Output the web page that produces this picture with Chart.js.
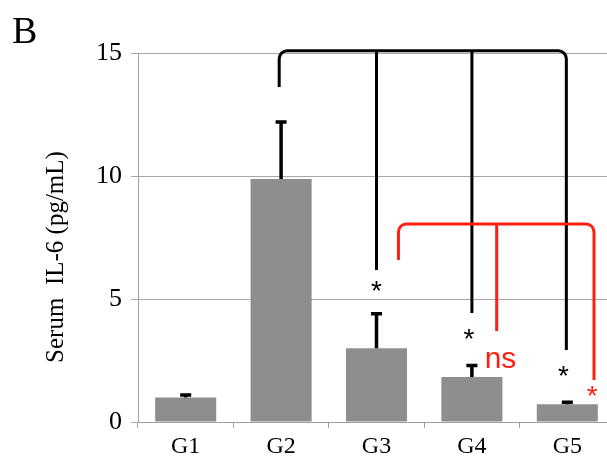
<!DOCTYPE html>
<html>
<head>
<meta charset="utf-8">
<script src="https://cdn.jsdelivr.net/npm/chart.js@4"></script>
<style>
    body { margin: 0; background: #fff; overflow: hidden; }
    #wrap { width: 615px; height: 463px; }
</style>
</head>
<body>
<div id="wrap"><canvas id="il6Chart"></canvas></div>
<script>
// Data
const categories = ["G1", "G2", "G3", "G4", "G5"];
const il6Mean = [1.0, 9.88, 3.0, 1.83, 0.72];
const il6ErrTop = [1.1, 12.2, 4.4, 2.3, 0.8];
const yTicks = [0, 5, 10, 15];

// Significance brackets (category index, value)
const blackTop = 15.09;
const blackLegs = [[0.98, 13.62], [2, 6.18], [3, 4.43], [3.99, 2.93]];
const blackStars = [[2, 5.57], [2.97, 3.62], [3.96, 2.11]];
const redTop = 8.05;
const redLegs = [[2.23, 6.59], [3.26, 3.7], [4.28, 1.71]];
const redStars = [[4.26, 1.3]];
const nsLabel = [3.3, 2.52];

const serif = "'Liberation Serif', 'Times New Roman', serif";
const sans = "'Liberation Sans', Arial, sans-serif";
const red = "#ff1f10";

function drawBracket(ctx, x, y, top, legs, color) {
    const r = 8;
    const yt = y.getPixelForValue(top);
    const first = legs[0], last = legs[legs.length - 1];
    const x0 = x.getPixelForValue(first[0]);
    const x1 = x.getPixelForValue(last[0]);
    ctx.save();
    ctx.strokeStyle = color;
    ctx.lineWidth = 3;
    ctx.lineJoin = "round";
    ctx.beginPath();
    ctx.moveTo(x0, y.getPixelForValue(first[1]));
    ctx.arcTo(x0, yt, x0 + r, yt, r);
    ctx.arcTo(x1, yt, x1, yt + r, r);
    ctx.lineTo(x1, y.getPixelForValue(last[1]));
    legs.slice(1, -1).forEach((leg) => {
        const lx = x.getPixelForValue(leg[0]);
        ctx.moveTo(lx, yt);
        ctx.lineTo(lx, y.getPixelForValue(leg[1]));
    });
    ctx.stroke();
    ctx.restore();
}

function drawStars(ctx, x, y, stars, color) {
    ctx.save();
    ctx.fillStyle = color;
    ctx.font = "28px " + sans;
    ctx.textAlign = "center";
    ctx.textBaseline = "middle";
    stars.forEach((s) => {
        ctx.fillText("*", x.getPixelForValue(s[0]), y.getPixelForValue(s[1]) + 7);
    });
    ctx.restore();
}

const extrasPlugin = {
    id: "extras",
    afterDatasetsDraw(chart) {
        const ctx = chart.ctx;
        const x = chart.scales.x;
        const y = chart.scales.y;
        const meta = chart.getDatasetMeta(0);

        // upper error bars
        ctx.save();
        ctx.strokeStyle = "#000";
        ctx.lineWidth = 3.5;
        meta.data.forEach((bar, i) => {
            const yTop = y.getPixelForValue(il6ErrTop[i]);
            ctx.beginPath();
            ctx.moveTo(bar.x, bar.y);
            ctx.lineTo(bar.x, yTop);
            ctx.moveTo(bar.x - 5.5, yTop);
            ctx.lineTo(bar.x + 5.5, yTop);
            ctx.stroke();
        });
        ctx.restore();

        drawBracket(ctx, x, y, blackTop, blackLegs, "#000");
        drawBracket(ctx, x, y, redTop, redLegs, red);
        drawStars(ctx, x, y, blackStars, "#000");
        drawStars(ctx, x, y, redStars, red);

        ctx.save();
        ctx.fillStyle = red;
        ctx.font = "30px " + sans;
        ctx.textAlign = "center";
        ctx.textBaseline = "middle";
        ctx.fillText("ns", x.getPixelForValue(nsLabel[0]), y.getPixelForValue(nsLabel[1]));
        ctx.restore();

        // panel letter and y title
        ctx.save();
        ctx.fillStyle = "#000";
        ctx.font = "38px " + serif;
        ctx.textAlign = "left";
        ctx.textBaseline = "alphabetic";
        ctx.fillText("B", 12, 43);
        ctx.translate(56, 257);
        ctx.rotate(-Math.PI / 2);
        ctx.font = "25px " + serif;
        ctx.textAlign = "center";
        ctx.textBaseline = "middle";
        ctx.fillText("Serum  IL-6 (pg/mL)", 0, 0);
        ctx.restore();
    },
};

const il6Chart = new Chart(document.getElementById("il6Chart"), {
    type: "bar",
    data: {
        labels: categories,
        datasets: [
            {
                data: il6Mean,
                backgroundColor: "#8e8e8e",
                borderWidth: 0,
                barPercentage: 0.64,
                categoryPercentage: 1,
            },
        ],
    },
    options: {
        responsive: true,
        maintainAspectRatio: false,
        animation: false,
        layout: { padding: { top: 53, right: 0, bottom: 0, left: 0 } },
        plugins: {
            legend: { display: false },
            tooltip: { enabled: false },
        },
        scales: {
            x: {
                afterFit: (scale) => { scale.height = 41; },
                grid: {
                    offset: true,
                    drawOnChartArea: false,
                    drawTicks: true,
                    tickLength: 6,
                    color: "#a0a0a0",
                },
                border: { color: "#a0a0a0" },
                ticks: {
                    color: "#000",
                    padding: 4,
                    font: { family: serif, size: 24 },
                },
            },
            y: {
                min: 0,
                max: 15,
                afterFit: (scale) => { scale.width = 138; },
                afterBuildTicks: (scale) => {
                    scale.ticks = yTicks.map((v) => ({ value: v }));
                },
                grid: {
                    color: "#a8a8a8",
                    tickLength: 7,
                },
                border: { color: "#a0a0a0" },
                ticks: {
                    color: "#000",
                    padding: 9,
                    font: { family: serif, size: 26 },
                },
            },
        },
    },
    plugins: [extrasPlugin],
});
</script>
</body>
</html>
